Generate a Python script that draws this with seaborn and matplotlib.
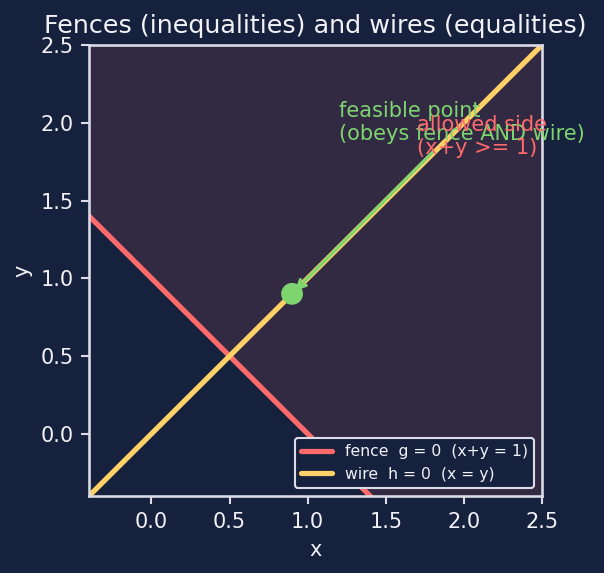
import matplotlib
matplotlib.use("Agg")
import matplotlib.pyplot as plt
import seaborn as sns
import pandas as pd

# data
line_x = [-0.4, 2.5]
fence_y = [1.4, -1.5]      # x + y = 1
wire_y = [-0.4, 2.5]       # x = y
fill_x = [-0.4, 2.5]
fill_low = [1.4, -1.5]
fill_high = [2.5, 2.5]
point_x = [0.9]
point_y = [0.9]

BG = "#16213e"
FG = "#f2f2f8"
EDGE = "#dcdce8"
RED = "#ff6b6b"
YELLOW = "#ffd166"
GREEN = "#7ed46f"

sns.set_theme(style="dark", rc={
    "figure.facecolor": BG,
    "axes.facecolor": BG,
    "axes.edgecolor": EDGE,
    "axes.labelcolor": FG,
    "text.color": FG,
    "xtick.color": EDGE,
    "ytick.color": EDGE,
    "xtick.labelcolor": FG,
    "ytick.labelcolor": FG,
    "xtick.bottom": True,
    "ytick.left": True,
    "axes.grid": False,
})
plt.rcParams['font.family'] = ['DejaVu Sans']

fig = plt.figure(figsize=(604 / 150, 573 / 150), dpi=150)
ax = fig.add_axes([89 / 604, 77 / 573, 453 / 604, 451 / 573])

ax.fill_between(fill_x, fill_low, fill_high, color=RED, alpha=0.12, linewidth=0)

lines = pd.DataFrame({
    "x": line_x + line_x,
    "y": fence_y + wire_y,
    "name": ["fence  g = 0  (x+y = 1)"] * 2 + ["wire  h = 0  (x = y)"] * 2,
})
sns.lineplot(data=lines, x="x", y="y", hue="name",
             palette=[RED, YELLOW], linewidth=2.5, ax=ax)

sns.scatterplot(x=point_x, y=point_y, color=GREEN, s=110, edgecolor="none",
                zorder=5, ax=ax, legend=False)

ax.annotate("feasible point\n(obeys fence AND wire)", xy=(point_x[0], point_y[0]),
            xytext=(1.2, 2.0), ha="left", va="center", color=GREEN, fontsize=10,
            arrowprops=dict(arrowstyle="->", color=GREEN, lw=1.5))
ax.text(1.7, 1.8, "allowed side\n(x+y >= 1)", color=RED, fontsize=10)

ax.set_xlim(-0.4, 2.5)
ax.set_ylim(-0.4, 2.5)
ax.set_xticks([0.0, 0.5, 1.0, 1.5, 2.0, 2.5])
ax.set_yticks([0.0, 0.5, 1.0, 1.5, 2.0, 2.5])
ax.tick_params(labelsize=10, length=4, width=1)
ax.set_xlabel("x", fontsize=10)
ax.set_ylabel("y", fontsize=10)
ax.set_title("Fences (inequalities) and wires (equalities)", fontsize=12.2, color=FG)

leg = ax.legend(loc="lower right", fontsize=7.5, facecolor=BG, edgecolor=EDGE,
                framealpha=1.0, title=None)
for t in leg.get_texts():
    t.set_color(FG)

fig.savefig("out.png", dpi=150, facecolor=BG)
